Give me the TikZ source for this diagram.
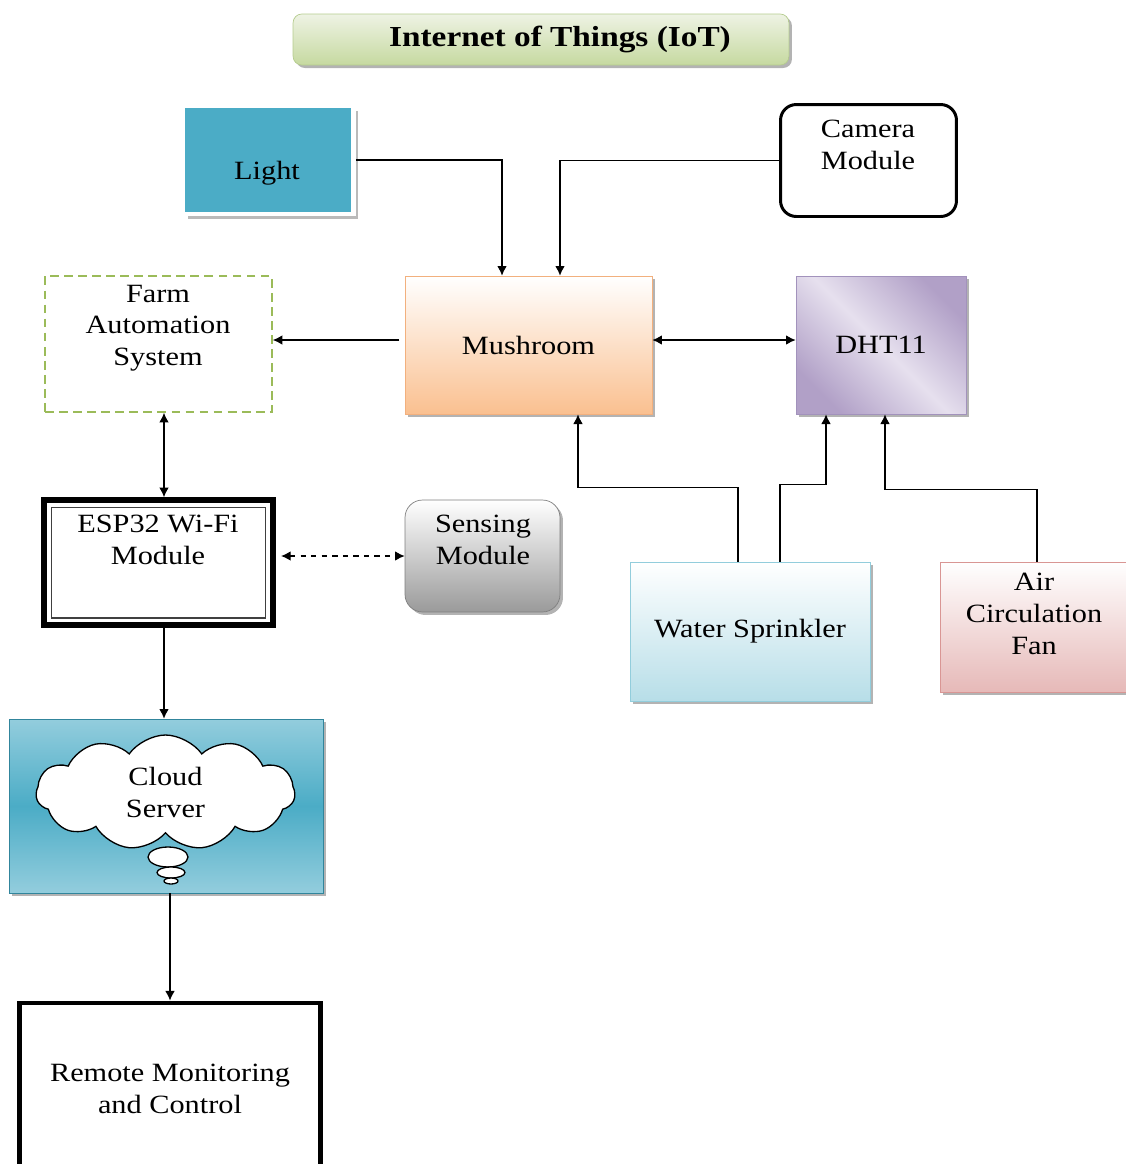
\documentclass[tikz,border=0pt]{standalone}
\usepackage{fontspec}
\setmainfont{Liberation Serif}[FakeStretch=1.15]
\usetikzlibrary{arrows.meta,shapes.symbols,shapes.geometric,shadows}

\definecolor{lightteal}{HTML}{4BACC6}
\definecolor{titletop}{HTML}{EEF3E4}
\definecolor{titlebot}{HTML}{C6D9A0}
\definecolor{titleedge}{HTML}{B5CC8E}
\definecolor{mushbot}{HTML}{FAC090}
\definecolor{mushedge}{HTML}{F2B07E}
\definecolor{dhtdark}{HTML}{B1A0C7}
\definecolor{dhtlight}{HTML}{E6E0EE}
\definecolor{dhtedge}{HTML}{A292BC}
\definecolor{farmedge}{HTML}{9BBB59}
\definecolor{sensbot}{HTML}{9A9A9A}
\definecolor{sensedge}{HTML}{7F7F7F}
\definecolor{waterbot}{HTML}{B7DEE8}
\definecolor{wateredge}{HTML}{92CDDC}
\definecolor{airbot}{HTML}{E6B9B8}
\definecolor{airedge}{HTML}{D99694}
\definecolor{cloudlt}{HTML}{93CDDD}
\definecolor{cloudedge}{HTML}{31859C}

\tikzstyle{blk}=[draw,inner sep=0,align=center,font=\fontsize{15}{18}\selectfont]
\tikzstyle{txt}=[inner sep=0,align=center,font=\fontsize{15}{18}\selectfont]
\tikzstyle{shd}=[drop shadow={shadow xshift=0.06cm,shadow yshift=-0.06cm,fill=black!50,opacity=0.6}]
\tikzstyle{arr}=[-{Latex[length=5.5pt,width=5.5pt]},line width=0.7pt]
\tikzstyle{darr}=[{Latex[length=5.5pt,width=5.5pt]}-{Latex[length=5.5pt,width=5.5pt]},line width=0.7pt]

\begin{document}
\begin{tikzpicture}[x=0.02cm,y=-0.02cm]
\path[use as bounding box,clip] (0,0) rectangle (1126,1164);

% title
\node[blk,shd,rounded corners=5pt,draw=titleedge,top color=titletop,bottom color=titlebot,minimum width=9.92cm,minimum height=1.02cm] (title) at (541,39.5) {};
\node[txt,font=\fontsize{16.5}{20}\selectfont\bfseries] (titletxt) at (560,39) {Internet of Things (IoT)};

% top row
\node[blk,fill=lightteal,draw=white,line width=2.8pt,minimum width=3.42cm,minimum height=2.16cm,drop shadow={shadow xshift=0.1cm,shadow yshift=-0.1cm,fill=black!45,opacity=0.6}] (light) at (268,160) {};
\node[txt] (lighttxt) at (267,173) {Light};

\node[blk,rounded corners=9pt,line width=1.7pt,minimum width=3.52cm,minimum height=2.24cm] (camera) at (868.5,160.5) {};
\node[txt] (cameratxt) at (868,145) {Camera\\Module};

% middle row
\node[blk,draw=farmedge,dash pattern=on 5pt off 3pt,line width=0.9pt,minimum width=4.54cm,minimum height=2.72cm] (farm) at (158.5,344) {};
\node[txt] (farmtxt) at (158,328) {Farm\\Automation\\System};

\node[blk,shd,draw=mushedge,top color=white,bottom color=mushbot,minimum width=4.94cm,minimum height=2.76cm] (mush) at (528.5,345) {Mushroom};

\node[blk,shd,draw=dhtedge,top color=dhtdark,bottom color=dhtdark,middle color=dhtlight,shading angle=-45,minimum width=3.4cm,minimum height=2.76cm] (dht) at (881,345) {DHT11};

% esp32 and sensors
\node[blk,line width=3.2pt,minimum width=4.58cm,minimum height=2.5cm] (esp) at (158.5,562.5) {};
\draw[line width=0.8pt,black!75] ([shift={(0.2cm,0.2cm)}]esp.south west) rectangle ([shift={(-0.2cm,-0.2cm)}]esp.north east);
\node[txt] (esptxt) at (158,540) {ESP32 Wi-Fi\\Module};

\node[blk,shd,rounded corners=10pt,draw=sensedge,top color=white,bottom color=sensbot,minimum width=3.1cm,minimum height=2.24cm] (sens) at (482.5,556) {};
\node[txt] (senstxt) at (483,540) {Sensing\\Module};

\node[blk,shd,draw=wateredge,top color=white,bottom color=waterbot,minimum width=4.8cm,minimum height=2.78cm] (water) at (750,631.5) {Water Sprinkler};

\node[blk,shd,draw=airedge,top color=white,bottom color=airbot,minimum width=3.8cm,minimum height=2.6cm] (air) at (1035,627) {};
\node[txt] (airtxt) at (1034,614) {Air\\Circulation\\Fan};

% cloud
\node[blk,shd,draw=cloudedge,top color=cloudlt,bottom color=cloudlt,middle color=lightteal,minimum width=6.28cm,minimum height=3.48cm] (cloudbox) at (166,806) {};
\node[ellipse,draw,fill=white,line width=0.75pt,inner sep=0,minimum width=0.8cm,minimum height=0.4cm] (bub1) at (168,857) {};
\node[ellipse,draw,fill=white,line width=0.75pt,inner sep=0,minimum width=0.56cm,minimum height=0.22cm] (bub2) at (171,872.5) {};
\node[ellipse,draw,fill=white,line width=0.75pt,inner sep=0,minimum width=0.28cm,minimum height=0.12cm] (bub3) at (171,881) {};
\node[cloud,draw,fill=white,line width=0.75pt,cloud puffs=11,cloud puff arc=110,aspect=2.2,inner sep=0,minimum width=5.18cm,minimum height=2.3cm,align=center,font=\fontsize{15}{18}\selectfont] (cloud) at (165.5,792.5) {Cloud\\Server};

\node[blk,line width=2.8pt,minimum width=6.02cm,minimum height=3.44cm] (remote) at (170,1089) {Remote Monitoring\\and Control};

% connectors
\draw[arr] (light.east) -| ([xshift=-0.53cm]mush.north);
\draw[arr] (camera.west) -| ([xshift=0.63cm]mush.north);
\draw[arr,shorten <=3pt] ([yshift=0.1cm]mush.west) -- ([yshift=0.1cm]mush.west -| farm.east);
\draw[darr] ([yshift=0.1cm]mush.east) -- ([yshift=0.1cm]mush.east -| dht.west);
\draw[darr] ([xshift=0.11cm]farm.south) -- ([xshift=0.11cm]farm.south |- esp.north);
\draw[darr,dashed,shorten <=3pt] ([yshift=0.13cm]esp.east) -- ([yshift=0.13cm]esp.east -| sens.west);
\draw[arr] ([xshift=0.11cm]esp.south) -- ([xshift=0.11cm]esp.south |- cloudbox.north);
\draw[arr] (remote.north |- cloudbox.south) -- (remote.north);
\draw[arr] ([xshift=-0.24cm]water.north) -- ++(0,-74) -| ([xshift=0.99cm]mush.south);
\draw[arr] ([xshift=0.6cm]water.north) -- ++(0,-77) -| ([xshift=-1.1cm]dht.south);
\draw[arr] ([xshift=0.04cm]air.north) -- ++(0,-72) -| ([xshift=0.08cm]dht.south);

\end{tikzpicture}
\end{document}
